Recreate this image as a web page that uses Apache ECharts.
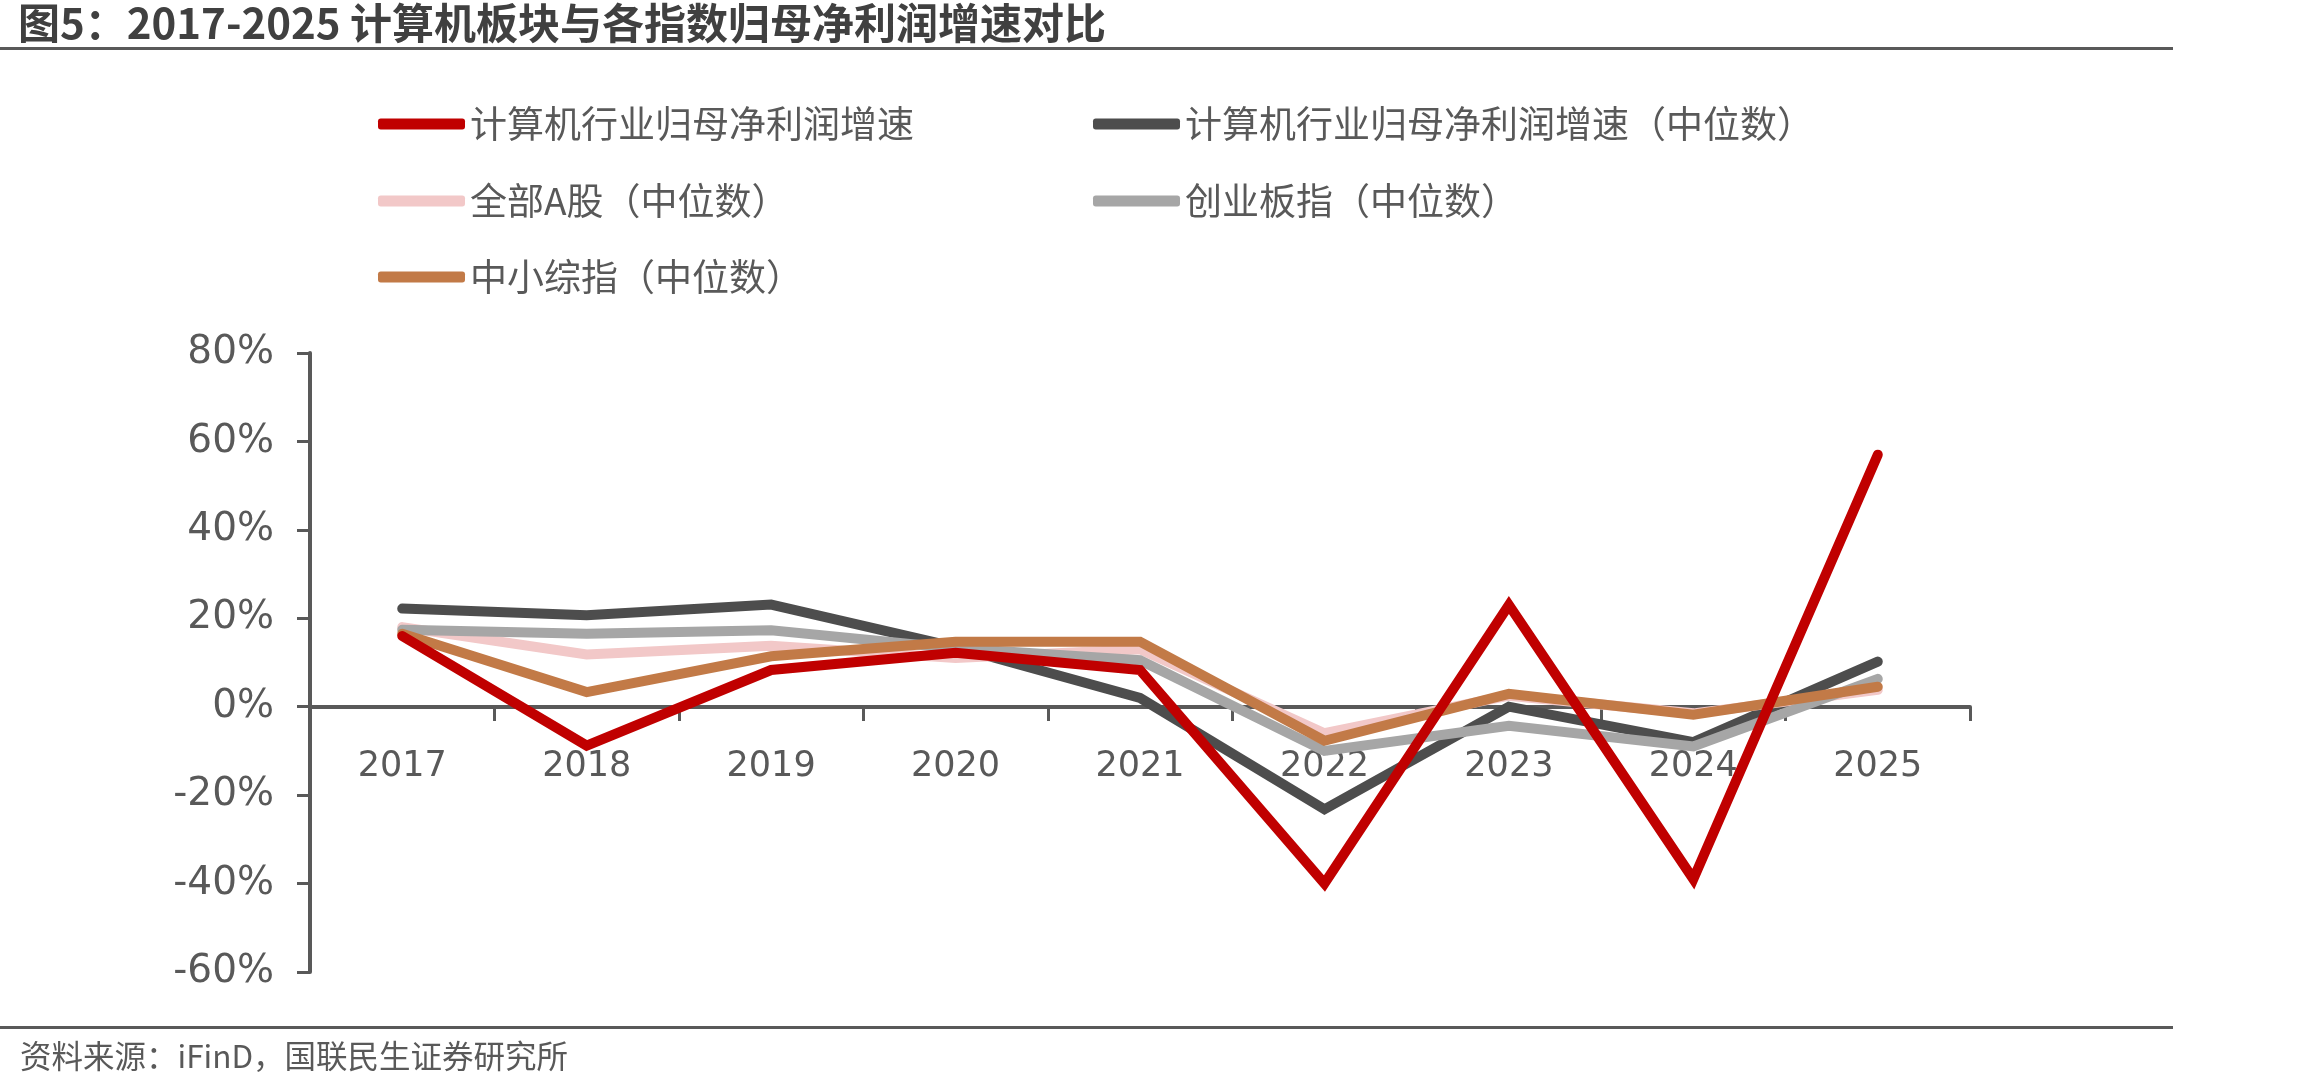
<!DOCTYPE html>
<html>
<head>
<meta charset="utf-8">
<title>计算机板块与各指数归母净利润增速对比</title>
<script src="https://cdn.jsdelivr.net/npm/echarts@6/dist/echarts.min.js"></script>
<style>
    html, body { margin: 0; padding: 0; background: #fff; }
    #main { width: 2310px; height: 1090px; }
</style>
</head>
<body>
<div id="main"></div>
<script>
    var years = ['2017', '2018', '2019', '2020', '2021', '2022', '2023', '2024', '2025'];

    // 百分比
    var computerGrowth = [16, -8.8, 8.3, 12.2, 8.3, -40, 23, -39, 57];
    var computerMedian = [22.2, 20.7, 23.1, 13.5, 2, -23.2, 0, -8, 10.2];
    var allAMedian = [18, 11.8, 13.8, 11, 13, -6, 2.5, -1.5, 3.8];
    var chinextMedian = [17.4, 16.5, 17.3, 13.2, 10.5, -10, -4.3, -9, 6.3];
    var smeMedian = [16.5, 3.3, 11.4, 14.7, 14.7, -7.7, 2.9, -1.8, 4.5];

    var seriesNames = ['计算机行业归母净利润增速', '计算机行业归母净利润增速（中位数）',
        '全部A股（中位数）', '创业板指（中位数）', '中小综指（中位数）'];

    var cjk = '"Noto Sans CJK SC", "Microsoft YaHei", sans-serif';
    var grayText = '#595959';

    var colors = ['#C00000', '#4D4D4D', '#F2C8C8', '#A6A6A6', '#C27A47'];
    var zs = [7, 3, 4, 5, 6];
    var datas = [computerGrowth, computerMedian, allAMedian, chinextMedian, smeMedian];

    var series = [];
    for (var i = 0; i < seriesNames.length; i++) {
        series.push({
            name: seriesNames[i],
            type: 'line',
            data: datas[i],
            symbol: 'none',
            z: zs[i],
            color: colors[i],
            lineStyle: { width: 10, color: colors[i], join: 'miter', cap: 'round' }
        });
    }

    // 图例位置: 两列三行
    var legendPos = [
        { left: 378, top: 124 },
        { left: 1093, top: 124 },
        { left: 378, top: 201 },
        { left: 1093, top: 201 },
        { left: 378, top: 277 }
    ];
    var legends = [];
    for (var j = 0; j < seriesNames.length; j++) {
        legends.push({
            data: [{ name: seriesNames[j], icon: 'roundRect' }],
            left: legendPos[j].left,
            top: legendPos[j].top - 20,
            padding: 0,
            itemWidth: 87,
            itemHeight: 11,
            itemGap: 0,
            selectedMode: false,
            textStyle: { fontFamily: cjk, fontSize: 37, color: grayText, lineHeight: 40 }
        });
    }

    // 网格 top 353 / bottom 118, 0% 所在位置离底边 265px
    var zeroOffset = -265;

    var option = {
        backgroundColor: '#fff',
        animation: false,
        title: {
            text: '图5：2017-2025 计算机板块与各指数归母净利润增速对比',
            left: 18,
            top: 2,
            padding: 0,
            textStyle: { fontFamily: cjk, fontSize: 42, fontWeight: 'bold', color: '#404040' }
        },
        legend: legends,
        grid: { left: 310, right: 340, top: 353, bottom: 118, containLabel: false },
        xAxis: {
            type: 'category',
            data: years,
            boundaryGap: true,
            position: 'bottom',
            offset: zeroOffset,
            axisLine: { onZero: false, lineStyle: { color: grayText, width: 4 } },
            axisTick: { show: true, length: 14, lineStyle: { color: grayText, width: 3 } },
            axisLabel: { margin: 42, fontFamily: '"DejaVu Sans", sans-serif', fontSize: 35, color: grayText },
            splitLine: { show: false }
        },
        yAxis: {
            type: 'value',
            min: -60,
            max: 80,
            interval: 20,
            axisLine: { show: true, lineStyle: { color: grayText, width: 4 } },
            axisTick: { show: true, length: 13, lineStyle: { color: grayText, width: 3 } },
            axisLabel: { margin: 36, formatter: '{value}%', fontFamily: '"DejaVu Sans", sans-serif', fontSize: 39, color: grayText },
            splitLine: { show: false }
        },
        graphic: [
            { type: 'rect', left: 0, top: 47, shape: { width: 2173, height: 3 }, style: { fill: '#595959' } },
            { type: 'rect', left: 0, top: 1026, shape: { width: 2173, height: 3 }, style: { fill: '#595959' } },
            {
                type: 'text', left: 20, top: 1040,
                style: { text: '资料来源：iFinD，国联民生证券研究所', font: '31.5px "Noto Sans CJK SC", sans-serif', fill: grayText }
            }
        ],
        series: series
    };

    var chart = echarts.init(document.getElementById('main'), null, { renderer: 'canvas' });
    chart.setOption(option);
</script>
</body>
</html>
